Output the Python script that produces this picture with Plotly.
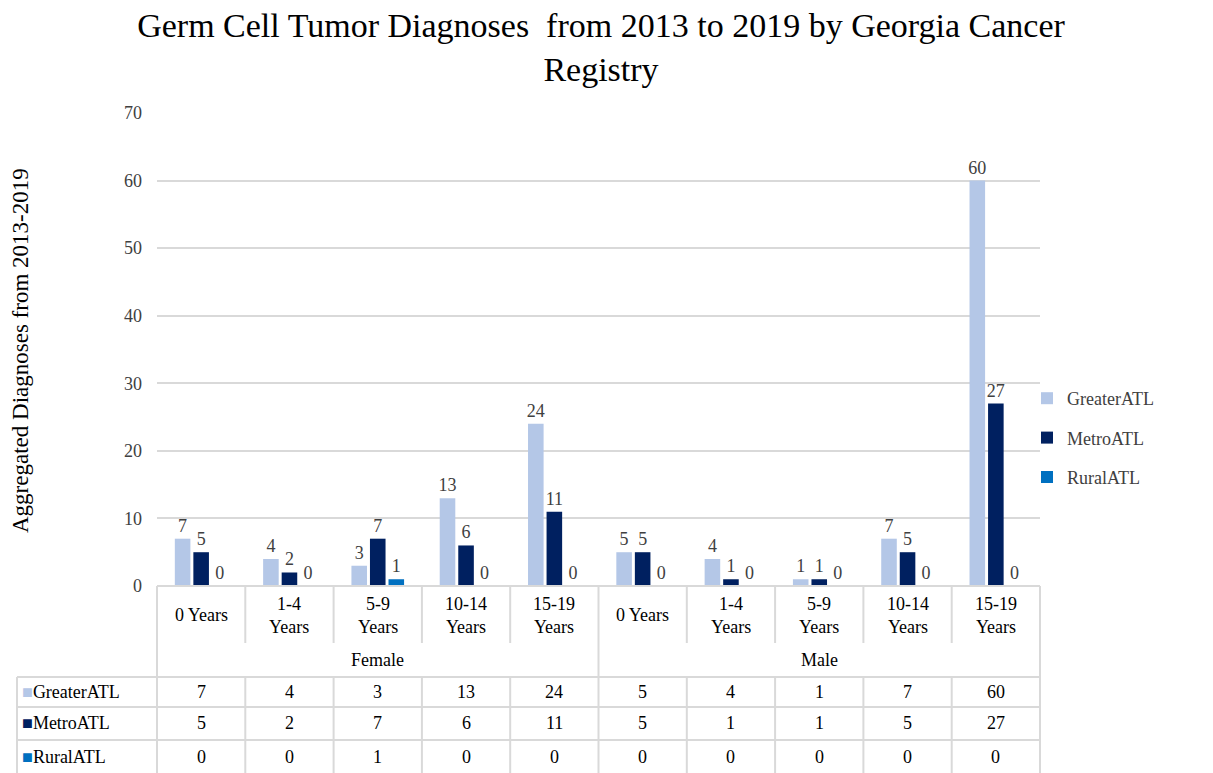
import plotly.graph_objects as go

# data
age_groups = ["0 Years", "1-4<br>Years", "5-9<br>Years", "10-14<br>Years", "15-19<br>Years"]
sexes = ["Female", "Male"]
series_names = ["GreaterATL", "MetroATL", "RuralATL"]
greater_atl = [7, 4, 3, 13, 24, 5, 4, 1, 7, 60]
metro_atl = [5, 2, 7, 6, 11, 5, 1, 1, 5, 27]
rural_atl = [0, 0, 1, 0, 0, 0, 0, 0, 0, 0]
y_ticks = [0, 10, 20, 30, 40, 50, 60, 70]

colors = ["#B4C7E7", "#002060", "#0070C0"]
series_values = [greater_atl, metro_atl, rural_atl]
categories = age_groups * len(sexes)
x_idx = list(range(len(categories)))

# page has an 8px body margin, so the figure is a bit smaller than the window
OFF = 8
FW, FH = 1213 - OFF, 773 - OFF
FONT = "Liberation Serif, Times New Roman, serif"
GRID = "#D9D9D9"
TXT = "#404040"

# plot area in window pixels (as measured on the reference)
X0, X1 = 157, 1040
Y_TOP, Y_ZERO = 113, 586


def py(p):
    return 1 - (p - OFF) / FH


def px(p):
    return (p - OFF) / FW


fig = go.Figure()
for name, vals, col in zip(series_names, series_values, colors):
    fig.add_trace(go.Bar(
        x=x_idx, y=vals, name=name, marker_color=col,
        text=vals, textposition="outside", cliponaxis=False,
        constraintext="none",
        textfont=dict(family=FONT, size=18, color=TXT),
        legendgroup=name,
    ))

fig.update_layout(
    template="none",
    width=FW, height=FH,
    margin=dict(l=0, r=0, t=0, b=0, autoexpand=False),
    paper_bgcolor="white", plot_bgcolor="white",
    barmode="group", bargap=0.37, bargroupgap=0.16,
    font=dict(family=FONT, size=18, color=TXT),
    title=dict(
        text="Germ Cell Tumor Diagnoses  from 2013 to 2019 by Georgia Cancer<br>Registry",
        x=px(601), xanchor="center", y=py(37), yanchor="middle",
        font=dict(family=FONT, size=34, color="black"),
    ),
    xaxis=dict(domain=[px(X0), px(X1)], range=[-0.5, len(categories) - 0.5],
               showticklabels=False, showgrid=False, zeroline=False, showline=False,
               automargin=False),
    yaxis=dict(domain=[py(Y_ZERO), py(Y_TOP)], range=[0, 70], tickvals=y_ticks,
               showgrid=True, gridcolor=GRID, gridwidth=1.5, zeroline=False,
               showline=False, ticks="", ticklabelstandoff=14, automargin=False,
               tickfont=dict(family=FONT, size=18, color=TXT)),
    legend=dict(x=px(1027), xanchor="left", y=py(438), yanchor="middle",
                font=dict(family=FONT, size=18, color=TXT),
                traceorder="grouped", tracegroupgap=13,
                itemwidth=30, bgcolor="rgba(0,0,0,0)", borderwidth=0),
    showlegend=True,
)

# y axis title
fig.add_annotation(text="Aggregated Diagnoses from 2013-2019", textangle=-90,
                   x=px(21), y=py(351), xref="paper", yref="paper",
                   xanchor="center", yanchor="middle",
                   showarrow=False, font=dict(family=FONT, size=23, color="black"))

# ---- data table below the plot ----
shapes = []


def hline(y, xa, xb):
    shapes.append(dict(type="line", xref="paper", yref="paper", x0=xa, x1=xb,
                       y0=py(y), y1=py(y), line=dict(color=GRID, width=2)))


def vline(x, ya, yb, xref="x"):
    shapes.append(dict(type="line", xref=xref, yref="paper", x0=x, x1=x,
                       y0=py(ya), y1=py(yb), line=dict(color=GRID, width=2)))


CAT_BOT, GRP_BOT = 643, 677
row_edges = [677, 707, 740, 775]

hline(Y_ZERO, px(X0), px(X1))
for y in row_edges[:-1]:
    hline(y, px(17), px(X1))
vline(px(17), 677, 775, xref="paper")
vline(px(X0), Y_ZERO, 775, xref="paper")
vline(px(X1), Y_ZERO, 775, xref="paper")
n_age = len(age_groups)
for b in range(1, len(categories)):
    if b % n_age == 0:
        vline(b - 0.5, Y_ZERO, 775)
    else:
        vline(b - 0.5, Y_ZERO, CAT_BOT)
        vline(b - 0.5, GRP_BOT, 775)

# category labels
for i, lab in enumerate(categories):
    fig.add_annotation(text=lab, x=i, y=py(615), xref="x", yref="paper",
                       xanchor="center", yanchor="middle",
                       showarrow=False, font=dict(family=FONT, size=18, color="black"))
# group labels
for g, sex in enumerate(sexes):
    fig.add_annotation(text=sex, x=g * n_age + (n_age - 1) / 2, y=py(660),
                       xref="x", yref="paper", xanchor="center", yanchor="middle",
                       showarrow=False, font=dict(family=FONT, size=18, color="black"))
# data rows
row_centers = [692, 723, 757]
for r, (name, vals, col) in enumerate(zip(series_names, series_values, colors)):
    yc = row_centers[r]
    fig.add_annotation(text=f"<span style='color:{col}'>■</span>{name}",
                       x=px(20), y=py(yc), xref="paper", yref="paper",
                       xanchor="left", yanchor="middle",
                       showarrow=False, font=dict(family=FONT, size=18, color="black"))
    for i, v in enumerate(vals):
        fig.add_annotation(text=str(v), x=i, y=py(yc), xref="x", yref="paper",
                           xanchor="center", yanchor="middle",
                           showarrow=False, font=dict(family=FONT, size=18, color="black"))

fig.update_layout(shapes=shapes)
fig.write_html("out.html")
